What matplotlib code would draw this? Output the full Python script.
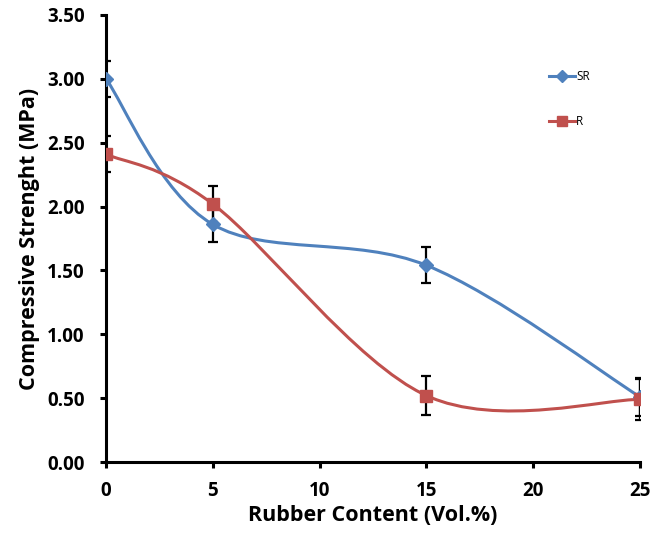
import numpy as np
import matplotlib.pyplot as plt
from matplotlib.path import Path
from matplotlib.patches import PathPatch
from matplotlib.lines import Line2D

# rubber content (vol.%)
content = [0, 5, 15, 25]
# compressive strength (MPa)
sr_vals = [3.00, 1.86, 1.54, 0.51]
r_vals = [2.41, 2.02, 0.52, 0.49]
sr_err = [0.14, 0.14, 0.14, 0.15]
r_err = [0.14, 0.14, 0.15, 0.16]

blue = '#4F81BD'
red = '#C0504D'

plt.rcParams['font.family'] = ['Open Sans', 'DejaVu Sans']


def smooth_path(x, y):
    # excel style smoothed line: cubic bezier through the points (catmull-rom)
    p = np.column_stack([x, y]).astype(float)
    p = np.vstack([p[0], p, p[-1]])
    verts = [p[1]]
    codes = [Path.MOVETO]
    for i in range(1, len(p) - 2):
        c1 = p[i] + (p[i + 1] - p[i - 1]) / 6
        c2 = p[i + 1] - (p[i + 2] - p[i]) / 6
        verts += [c1, c2, p[i + 1]]
        codes += [Path.CURVE4] * 3
    return Path(verts, codes)


fig = plt.figure(figsize=(6.56, 5.33), dpi=100)
ax = fig.add_axes([0.1616, 0.1332, 0.8140, 0.8387])

ax.errorbar(content, sr_vals, yerr=sr_err, fmt='none', ecolor='black',
            elinewidth=1.6, capsize=3.5, capthick=1.6, zorder=2)
ax.errorbar(content, r_vals, yerr=r_err, fmt='none', ecolor='black',
            elinewidth=1.6, capsize=3.5, capthick=1.6, zorder=2)

for vals, col in [(sr_vals, blue), (r_vals, red)]:
    ax.add_patch(PathPatch(smooth_path(content, vals), facecolor='none',
                           edgecolor=col, lw=2.2, zorder=3))

ax.plot(content, sr_vals, ls='none', marker='D', ms=7.5, color=blue, zorder=4)
ax.plot(content, r_vals, ls='none', marker='s', ms=9, color=red, zorder=4)

ax.set_xlim(0, 25)
ax.set_ylim(0, 3.5)
ax.set_xticks([0, 5, 10, 15, 20, 25])
ax.set_yticks(np.arange(0, 3.51, 0.5))
ax.set_yticklabels(['%.2f' % v for v in np.arange(0, 3.51, 0.5)])

for s in ['top', 'right']:
    ax.spines[s].set_visible(False)
for s in ['left', 'bottom']:
    ax.spines[s].set_linewidth(2.2)
ax.tick_params(direction='out', length=4.5, width=2.2, labelsize=13.5)
ax.tick_params(axis='x', pad=9)
ax.tick_params(axis='y', pad=11)
for lab in ax.get_xticklabels() + ax.get_yticklabels():
    lab.set_fontweight('bold')

ax.set_xlabel('Rubber Content (Vol.%)', fontsize=15.5, fontweight='bold', labelpad=3)
ax.set_ylabel('Compressive Strenght (MPa)', fontsize=15.5, fontweight='bold', labelpad=5)

handles = [Line2D([], [], color=blue, lw=2.2, marker='D', ms=6),
           Line2D([], [], color=red, lw=2.2, marker='s', ms=7)]
ax.legend(handles, ['SR', 'R'], loc='upper left', bbox_to_anchor=(0.81, 0.9),
          frameon=False, fontsize=8.5, handlelength=2.2, handletextpad=0.1,
          labelspacing=2.7)

fig.savefig('out.png', dpi=100)
